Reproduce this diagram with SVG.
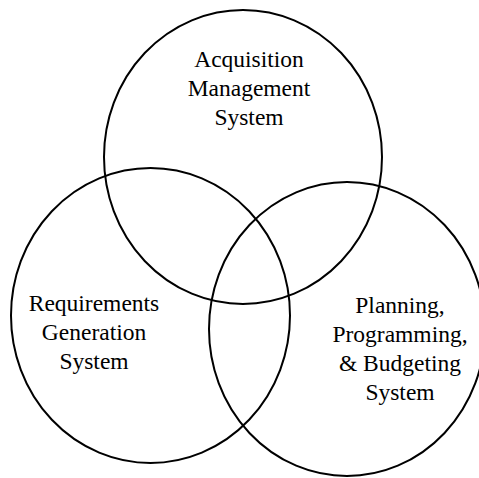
<svg xmlns="http://www.w3.org/2000/svg" width="479" height="478" viewBox="0 0 479 478">
<style>
.c{fill:none;stroke:#000;stroke-width:2}
.t{font-family:"Liberation Serif","Times New Roman",serif;font-size:23.5px;fill:#000;text-anchor:middle}
</style>
<rect width="479" height="478" fill="#fff"/>
<g id="acq">
<ellipse class="c" cx="243" cy="157" rx="139" ry="147"/>
<text class="t" x="249" y="67">Acquisition</text>
<text class="t" x="249" y="96">Management</text>
<text class="t" x="249" y="125">System</text>
</g>
<g id="req">
<ellipse class="c" cx="150.5" cy="315.5" rx="139.5" ry="147.5"/>
<text class="t" x="94" y="311">Requirements</text>
<text class="t" x="94" y="340">Generation</text>
<text class="t" x="94" y="369">System</text>
</g>
<g id="ppb">
<ellipse class="c" cx="347" cy="329" rx="138" ry="147"/>
<text class="t" x="400" y="313">Planning,</text>
<text class="t" x="400" y="342">Programming,</text>
<text class="t" x="400" y="371">&amp; Budgeting</text>
<text class="t" x="400" y="400">System</text>
</g>
<g id="connectors"/>
</svg>
